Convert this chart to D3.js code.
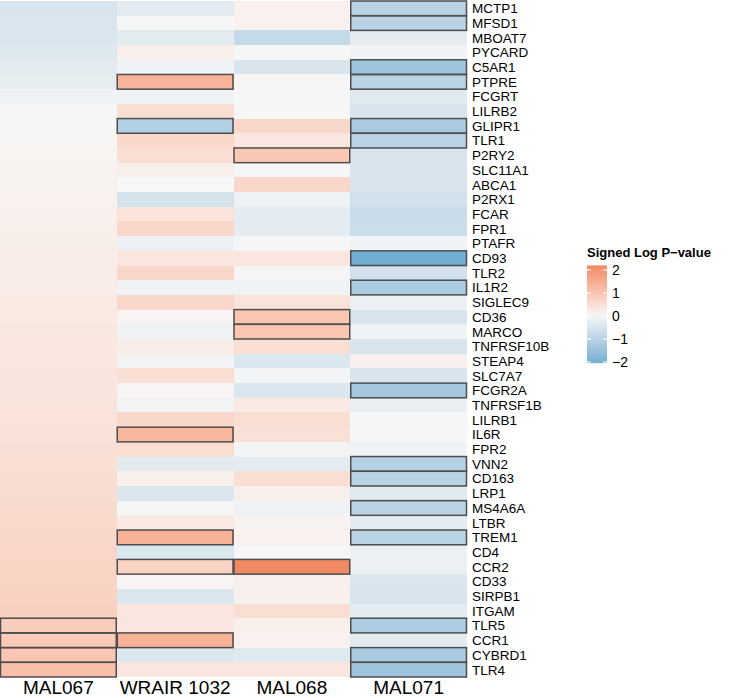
<!DOCTYPE html>
<html>
<head>
<meta charset="utf-8">
<script src="https://cdn.jsdelivr.net/npm/d3@7"></script>
<style>
  body { margin: 0; background: #fff; }
  svg { display: block; font-family: "Liberation Sans", Arial, sans-serif; }
  .gene { font-size: 13.5px; fill: #000; }
  .sample { font-size: 19px; fill: #000; }
  .legend-title { font-size: 13px; font-weight: bold; fill: #000; }
  .legend-tick { font-size: 14px; fill: #000; }
</style>
</head>
<body>
<svg id="heatmap" width="746" height="698"></svg>
<script>
// rows top -> bottom
var genes = ["MCTP1", "MFSD1", "MBOAT7", "PYCARD", "C5AR1", "PTPRE", "FCGRT", "LILRB2",
    "GLIPR1", "TLR1", "P2RY2", "SLC11A1", "ABCA1", "P2RX1", "FCAR", "FPR1", "PTAFR",
    "CD93", "TLR2", "IL1R2", "SIGLEC9", "CD36", "MARCO", "TNFRSF10B", "STEAP4", "SLC7A7",
    "FCGR2A", "TNFRSF1B", "LILRB1", "IL6R", "FPR2", "VNN2", "CD163", "LRP1", "MS4A6A",
    "LTBR", "TREM1", "CD4", "CCR2", "CD33", "SIRPB1", "ITGAM", "TLR5", "CCR1", "CYBRD1", "TLR4"];

var samples = ["MAL067", "WRAIR 1032", "MAL068", "MAL071"];

// signed log p-values, one array per sample, same order as genes
var valMAL067 = [-0.50, -0.48, -0.45, -0.42, -0.32, -0.26, -0.12, -0.06, 0.02, 0.05,
    0.07, 0.09, 0.11, 0.13, 0.15, 0.17, 0.19, 0.21, 0.23, 0.25, 0.27, 0.29, 0.31,
    0.33, 0.35, 0.36, 0.37, 0.38, 0.40, 0.43, 0.46, 0.49, 0.52, 0.55, 0.58, 0.61,
    0.64, 0.66, 0.69, 0.72, 0.76, 0.80, 0.85, 0.90, 0.97, 1.12];
var valWRAIR1032 = [-0.30, -0.03, -0.30, 0.18, -0.12, 1.35, -0.12, 0.50, -1.10, 0.62,
    0.50, 0.17, 0.00, -0.55, 0.40, 0.62, -0.18, 0.35, 0.62, -0.15, 0.62, 0.06, -0.15,
    0.22, -0.10, 0.50, 0.06, -0.10, 0.62, 1.30, 0.50, -0.33, 0.17, -0.45, -0.03, 0.28,
    1.40, -0.45, 0.72, 0.06, -0.45, 0.35, 0.35, 1.40, -0.45, 0.35];
var valMAL068 = [0.12, 0.12, -0.80, -0.04, -0.50, 0.04, -0.03, -0.02, 0.62, 0.35,
    0.95, -0.03, 0.62, -0.15, -0.30, -0.30, -0.05, 0.35, 0.04, -0.12, 0.40, 1.00, 1.00,
    0.50, -0.45, -0.08, -0.45, 0.28, 0.50, 0.45, -0.08, -0.30, 0.50, 0.17, -0.15, 0.08,
    0.12, -0.02, 2.20, 0.14, 0.14, 0.50, 0.17, 0.12, -0.38, 0.35];
var valMAL071 = [-1.00, -1.00, -0.30, -0.12, -1.40, -1.00, -0.38, -0.50, -1.25, -1.00,
    -0.50, -0.50, -0.50, -0.60, -0.75, -0.70, -0.12, -2.05, -0.60, -1.20, -0.18, -0.50,
    -0.12, -0.50, 0.14, -0.50, -1.30, -0.22, -0.03, -0.03, -0.12, -1.05, -1.00, -0.38,
    -1.00, -0.30, -1.00, -0.20, -0.20, -0.45, -0.50, -0.30, -1.20, -0.33, -1.25, -1.40];

// outlined (significant) cells
var sigMAL067 = ["TLR5", "CCR1", "CYBRD1", "TLR4"];
var sigWRAIR1032 = ["PTPRE", "GLIPR1", "IL6R", "TREM1", "CCR2", "CCR1"];
var sigMAL068 = ["P2RY2", "CD36", "MARCO", "CCR2"];
var sigMAL071 = ["MCTP1", "MFSD1", "C5AR1", "PTPRE", "GLIPR1", "TLR1", "CD93", "IL1R2",
    "FCGR2A", "VNN2", "CD163", "MS4A6A", "TREM1", "TLR5", "CYBRD1", "TLR4"];

var legendTicks = [-2, -1, 0, 1, 2];

var values = [valMAL067, valWRAIR1032, valMAL068, valMAL071];
var sigs = [sigMAL067, sigWRAIR1032, sigMAL068, sigMAL071];

var cells = [];
samples.forEach(function(s, j) {
    genes.forEach(function(g, i) {
        cells.push({ sample: s, gene: g, value: values[j][i], sig: sigs[j].indexOf(g) >= 0 });
    });
});

var svg = d3.select("#heatmap");

var x = d3.scaleBand().domain(samples).range([0, 467]);
var y = d3.scaleBand().domain(genes).range([1, 677]);

var allVals = d3.merge(values);
var lo = d3.min(allVals), hi = d3.max(allVals);
var m = Math.max(Math.abs(lo), Math.abs(hi));

var color = d3.scaleLinear()
    .domain([-m, 0, m])
    .range(["#67a9cf", "#f7f7f7", "#ef8a62"])
    .interpolate(d3.interpolateLab);

// tiles
svg.append("g").selectAll("rect")
    .data(cells)
    .join("rect")
    .attr("x", function(d) { return x(d.sample); })
    .attr("y", function(d) { return y(d.gene); })
    .attr("width", x.bandwidth())
    .attr("height", y.bandwidth())
    .attr("fill", function(d) { return color(d.value); })
    .attr("shape-rendering", "crispEdges");

// outlines on top
svg.append("g").selectAll("rect")
    .data(cells.filter(function(d) { return d.sig; }))
    .join("rect")
    .attr("x", function(d) { return x(d.sample) + 0.5; })
    .attr("y", function(d) { return y(d.gene); })
    .attr("width", x.bandwidth() - 1)
    .attr("height", y.bandwidth())
    .attr("fill", "none")
    .attr("stroke", "#4d4d4d")
    .attr("stroke-width", 1.5);

// gene labels (right)
svg.append("g").selectAll("text")
    .data(genes)
    .join("text")
    .attr("class", "gene")
    .attr("x", 472)
    .attr("y", function(d) { return y(d) + y.bandwidth() / 2; })
    .attr("dy", "0.36em")
    .text(function(d) { return d; });

// sample labels (bottom)
svg.append("g").selectAll("text")
    .data(samples)
    .join("text")
    .attr("class", "sample")
    .attr("x", function(d) { return x(d) + x.bandwidth() / 2; })
    .attr("y", 694)
    .attr("text-anchor", "middle")
    .text(function(d) { return d; });

// colour bar legend
var lg = svg.append("g").attr("transform", "translate(587,0)");
var barW = 20;
// 0 sits at y=316, 23px per unit
var ly = d3.scaleLinear().domain([0, 1]).range([316, 293]);

var defs = svg.append("defs");
var grad = defs.append("linearGradient")
    .attr("id", "legend-grad")
    .attr("x1", 0).attr("y1", 1).attr("x2", 0).attr("y2", 0);
d3.range(0, 1.0001, 0.05).forEach(function(t) {
    var v = lo + t * (hi - lo);
    grad.append("stop")
        .attr("offset", t)
        .attr("stop-color", color(v));
});

lg.append("text")
    .attr("class", "legend-title")
    .attr("x", 0)
    .attr("y", 257)
    .text("Signed Log P\u2212value");

lg.append("rect")
    .attr("x", 0)
    .attr("y", ly(hi))
    .attr("width", barW)
    .attr("height", ly(lo) - ly(hi))
    .attr("fill", "url(#legend-grad)");

var tk = lg.append("g").selectAll("g")
    .data(legendTicks.filter(function(t) { return t >= lo && t <= hi; }))
    .join("g")
    .attr("transform", function(d) { return "translate(0," + ly(d) + ")"; });

tk.append("line")
    .attr("x1", 0).attr("x2", 4)
    .attr("stroke", "#fff").attr("stroke-width", 1);
tk.append("line")
    .attr("x1", barW - 4).attr("x2", barW)
    .attr("stroke", "#fff").attr("stroke-width", 1);
tk.append("text")
    .attr("class", "legend-tick")
    .attr("x", barW + 5)
    .attr("dy", "0.36em")
    .text(function(d) { return d < 0 ? "\u2212" + Math.abs(d) : d; });
</script>
</body>
</html>
